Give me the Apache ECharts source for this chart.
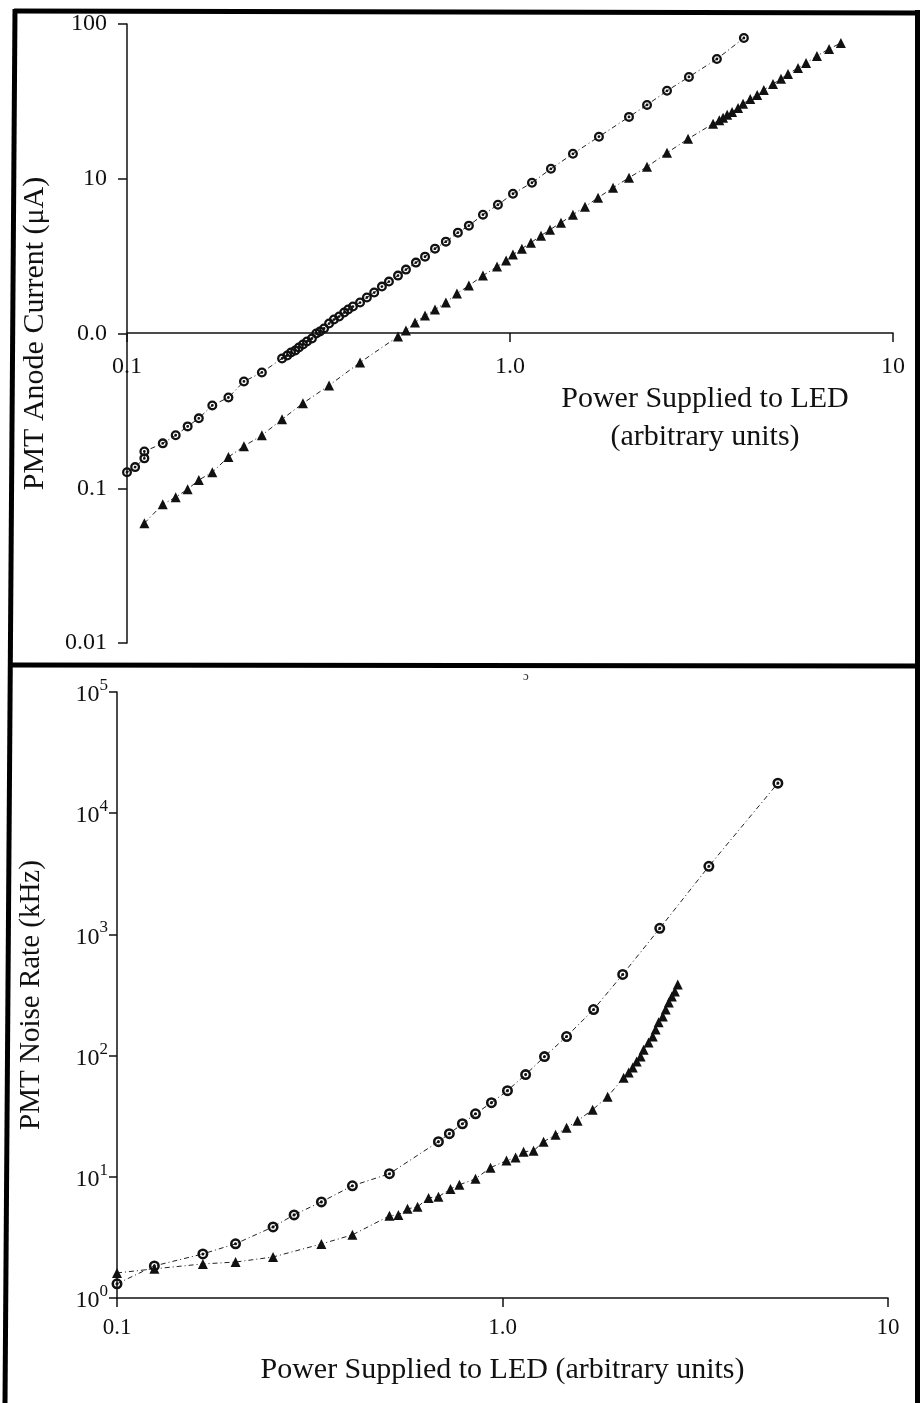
<!DOCTYPE html>
<html>
<head>
<meta charset="utf-8">
<title>PMT anode current and noise rate vs LED power</title>
<script src="https://cdn.jsdelivr.net/npm/echarts@6/dist/echarts.min.js"></script>
<style>
  html, body { margin: 0; padding: 0; background: #fff; }
  #chart { width: 920px; height: 1403px; }
</style>
</head>
<body>
<div id="chart"></div>
<script>
// top panel: anode current (uA) vs power, circles and triangles
var topCircleX = [0.100, 0.105, 0.111, 0.111, 0.124, 0.134, 0.144, 0.154, 0.167, 0.184,
  0.202, 0.225, 0.254, 0.262, 0.268, 0.275, 0.281, 0.288, 0.295, 0.304,
  0.312, 0.319, 0.327, 0.337, 0.347, 0.358, 0.369, 0.378, 0.389, 0.406,
  0.423, 0.442, 0.463, 0.483, 0.510, 0.535, 0.568, 0.600, 0.637, 0.680,
  0.731, 0.781, 0.850, 0.930, 1.018, 1.141, 1.279, 1.460, 1.707, 2.045,
  2.279, 2.570, 2.932, 3.469, 4.080];
var topCircleY = [0.127, 0.137, 0.156, 0.173, 0.195, 0.220, 0.251, 0.283, 0.343, 0.386,
  0.490, 0.560, 0.690, 0.721, 0.754, 0.777, 0.812, 0.849, 0.888, 0.928,
  1.000, 1.030, 1.077, 1.160, 1.231, 1.287, 1.366, 1.428, 1.493, 1.585,
  1.708, 1.839, 2.010, 2.165, 2.366, 2.587, 2.871, 3.138, 3.535, 3.923,
  4.484, 4.976, 5.86, 6.79, 8.00, 9.42, 11.6, 14.5, 18.7, 25.1,
  30.0, 37.0, 45.5, 59.4, 81.2];

var topTriX = [0.111, 0.124, 0.134, 0.144, 0.154, 0.167, 0.184, 0.202, 0.225, 0.254,
  0.288, 0.337, 0.406, 0.510, 0.535, 0.565, 0.600, 0.637, 0.680, 0.727,
  0.781, 0.850, 0.925, 0.977, 1.018, 1.074, 1.134, 1.205, 1.272, 1.359,
  1.460, 1.570, 1.698, 1.858, 2.045, 2.279, 2.570, 2.917, 3.39, 3.52,
  3.60, 3.69, 3.80, 3.94, 4.06, 4.24, 4.42, 4.60, 4.86, 5.10,
  5.32, 5.65, 5.93, 6.33, 6.81, 7.31];
var topTriY = [0.0594, 0.0788, 0.0875, 0.0986, 0.113, 0.127, 0.159, 0.187, 0.220, 0.279,
  0.354, 0.462, 0.650, 0.956, 1.046, 1.178, 1.306, 1.428, 1.585, 1.811,
  2.04, 2.366, 2.705, 2.958, 3.235, 3.535, 3.865, 4.29, 4.69, 5.20,
  5.86, 6.60, 7.54, 8.75, 10.15, 11.95, 14.7, 18.1, 22.7, 23.9,
  24.8, 25.9, 27.0, 28.7, 30.5, 32.8, 34.8, 37.5, 41.0, 44.2,
  47.6, 52.0, 56.0, 62.2, 69.0, 75.4];

// bottom panel: noise rate (kHz) vs power
var botCircleX = [0.100, 0.125, 0.167, 0.203, 0.254, 0.288, 0.339, 0.408, 0.509, 0.682,
  0.728, 0.787, 0.851, 0.936, 1.030, 1.148, 1.285, 1.466, 1.723, 2.05,
  2.558, 3.43, 5.18];
var botCircleY = [1.31, 1.84, 2.31, 2.80, 3.86, 4.85, 6.21, 8.43, 10.6, 19.5,
  22.7, 27.4, 33.1, 40.9, 51.4, 69.7, 98.1, 143.6, 240, 467,
  1122, 3648, 17700];

var botTriX = [0.100, 0.125, 0.167, 0.203, 0.254, 0.339, 0.408, 0.509, 0.537, 0.567,
  0.602, 0.643, 0.682, 0.733, 0.773, 0.851, 0.931, 1.024, 1.081, 1.134,
  1.204, 1.278, 1.373, 1.466, 1.566, 1.713, 1.874, 2.062, 2.125, 2.177,
  2.229, 2.282, 2.323, 2.393, 2.453, 2.496, 2.541, 2.605, 2.65, 2.70,
  2.75, 2.80, 2.848];
var botTriY = [1.61, 1.74, 1.91, 1.98, 2.18, 2.79, 3.32, 4.76, 4.85, 5.44,
  5.65, 6.70, 6.84, 7.95, 8.59, 9.62, 11.9, 13.6, 14.4, 16.1,
  16.4, 19.5, 22.2, 25.4, 29.0, 35.8, 45.8, 65.8, 72.4, 79.6,
  89.2, 98.1, 112, 128, 144, 164, 188, 210, 240, 274,
  308, 338, 386];

// tick labels, indexed by decade
var xTickLabels = ['0.1', '1.0', '10'];              // 10^-1 .. 10^1
var topYTickLabels = ['0.01', '0.1', '0.0', '10', '100']; // 10^-2 .. 10^2 (as printed)

var FONT = '"Liberation Serif", "DejaVu Serif", serif';
var INK = '#111';
// open circle with a dot in the middle
var RING = 'path://M10,0A10,10,0,1,1,-10,0A10,10,0,1,1,10,0ZM5.4,0A5.4,5.4,0,1,0,-5.4,0A5.4,5.4,0,1,0,5.4,0ZM2.8,0A2.8,2.8,0,1,1,-2.8,0A2.8,2.8,0,1,1,2.8,0Z';
var DASHDOT = [5, 3, 1, 3];

function zip(xs, ys) {
  return xs.map(function (x, i) { return [x, ys[i]]; });
}
function decade(v) {
  return Math.round(Math.log(v) / Math.LN10);
}

var chart = echarts.init(document.getElementById('chart'), null, { renderer: 'canvas' });

var axisLineStyle = { color: INK, width: 1.5 };

var option = {
  animation: false,
  backgroundColor: '#fff',
  grid: [
    { left: 127, top: 24, width: 766, height: 619 },   // top data area
    { left: 127, top: 24, width: 766, height: 309 },   // top x axis (crosses at 1)
    { left: 117, top: 692, width: 771, height: 606 }   // bottom panel
  ],
  xAxis: [
    { gridIndex: 0, type: 'log', logBase: 10, min: 0.1, max: 10, show: false },
    {
      gridIndex: 1, type: 'log', logBase: 10, min: 0.1, max: 10, splitNumber: 2,
      axisLine: { show: true, lineStyle: axisLineStyle },
      axisTick: { show: true, length: 9, lineStyle: axisLineStyle },
      minorTick: { show: false },
      splitLine: { show: false },
      axisLabel: {
        show: true, showMinLabel: true, showMaxLabel: true,
        fontFamily: FONT, fontSize: 24, color: INK, margin: 22,
        formatter: function (v) { return xTickLabels[decade(v) + 1]; }
      },
      name: 'Power Supplied to LED\n(arbitrary units)',
      nameLocation: 'middle', nameGap: 45,
      nameTextStyle: { fontFamily: FONT, fontSize: 30, color: INK, lineHeight: 38, padding: [0, 0, 0, 390] }
    },
    {
      gridIndex: 2, type: 'log', logBase: 10, min: 0.1, max: 10, splitNumber: 2,
      axisLine: { show: true, lineStyle: axisLineStyle },
      axisTick: { show: true, length: 9, lineStyle: axisLineStyle },
      splitLine: { show: false },
      axisLabel: {
        show: true, showMinLabel: true, showMaxLabel: true,
        fontFamily: FONT, fontSize: 23, color: INK, margin: 18,
        formatter: function (v) { return xTickLabels[decade(v) + 1]; }
      },
      name: 'Power Supplied to LED (arbitrary units)',
      nameLocation: 'middle', nameGap: 55,
      nameTextStyle: { fontFamily: FONT, fontSize: 30, color: INK, lineHeight: 34 }
    }
  ],
  yAxis: [
    {
      gridIndex: 0, type: 'log', logBase: 10, min: 0.01, max: 100, splitNumber: 4,
      axisLine: { show: true, lineStyle: axisLineStyle },
      axisTick: { show: true, length: 9, lineStyle: axisLineStyle },
      splitLine: { show: false },
      axisLabel: {
        show: true, showMinLabel: true, showMaxLabel: true,
        fontFamily: FONT, fontSize: 24, color: INK, margin: 20,
        formatter: function (v) { return topYTickLabels[decade(v) + 2]; }
      },
      name: 'PMT Anode Current (\u03BCA)',
      nameLocation: 'middle', nameRotate: 90, nameGap: 75,
      nameTextStyle: { fontFamily: FONT, fontSize: 30, color: INK, lineHeight: 34 }
    },
    { gridIndex: 1, type: 'value', show: false },
    {
      gridIndex: 2, type: 'log', logBase: 10, min: 1, max: 100000, splitNumber: 5,
      axisLine: { show: true, lineStyle: axisLineStyle },
      axisTick: { show: true, length: 8, lineStyle: axisLineStyle },
      splitLine: { show: false },
      axisLabel: {
        show: true, showMinLabel: true, showMaxLabel: true, margin: 9,
        formatter: function (v) { return '{b|10}{s|' + decade(v) + '}'; },
        rich: {
          b: { fontFamily: FONT, fontSize: 24, color: INK, lineHeight: 30, verticalAlign: 'bottom' },
          s: { fontFamily: FONT, fontSize: 17, color: INK, lineHeight: 18, verticalAlign: 'top' }
        }
      },
      name: 'PMT Noise Rate (kHz)',
      nameLocation: 'middle', nameRotate: 90, nameGap: 69,
      nameTextStyle: { fontFamily: FONT, fontSize: 29, color: INK, lineHeight: 34 }
    }
  ],
  series: [
    {
      type: 'line', xAxisIndex: 0, yAxisIndex: 0, data: zip(topCircleX, topCircleY),
      symbol: RING, symbolSize: 10, itemStyle: { color: INK },
      lineStyle: { color: '#222', width: 1, type: DASHDOT }, silent: true
    },
    {
      type: 'line', xAxisIndex: 0, yAxisIndex: 0, data: zip(topTriX, topTriY),
      symbol: 'triangle', symbolSize: 10, itemStyle: { color: INK },
      lineStyle: { color: '#222', width: 1, type: DASHDOT }, silent: true
    },
    {
      type: 'line', xAxisIndex: 2, yAxisIndex: 2, data: zip(botCircleX, botCircleY),
      symbol: RING, symbolSize: 11, itemStyle: { color: INK },
      lineStyle: { color: '#222', width: 1, type: DASHDOT }, silent: true
    },
    {
      type: 'line', xAxisIndex: 2, yAxisIndex: 2, data: zip(botTriX, botTriY),
      symbol: 'triangle', symbolSize: 10, itemStyle: { color: INK },
      lineStyle: { color: '#222', width: 1, type: DASHDOT }, silent: true
    }
  ],
  graphic: [
    // scanned frame: outer border and divider between the panels
    { type: 'line', silent: true, shape: { x1: 14, y1: 11, x2: 920, y2: 13 }, style: { stroke: '#000', lineWidth: 5 } },
    { type: 'line', silent: true, shape: { x1: 15, y1: 9, x2: 5, y2: 1403 }, style: { stroke: '#000', lineWidth: 5 } },
    { type: 'line', silent: true, shape: { x1: 917.5, y1: 10, x2: 917.5, y2: 1403 }, style: { stroke: '#000', lineWidth: 5 } },
    { type: 'line', silent: true, shape: { x1: 12, y1: 665, x2: 920, y2: 666 }, style: { stroke: '#000', lineWidth: 5 } },
    { type: 'text', silent: true, x: 523, y: 670, style: { text: '\u0254', font: '13px ' + FONT, fill: '#333' } }
  ]
};

chart.setOption(option);
</script>
</body>
</html>
